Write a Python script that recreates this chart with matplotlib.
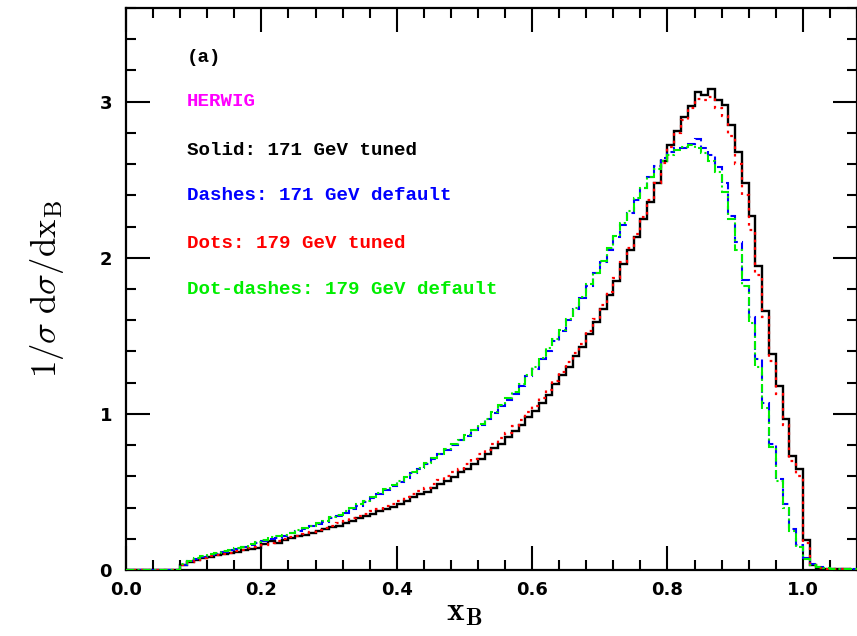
import numpy as np
import matplotlib
matplotlib.use("Agg")
import matplotlib.pyplot as plt
from matplotlib.ticker import MultipleLocator

# bin edges: 0.00 .. 1.08 in steps of 0.01
edges = np.round(np.arange(0, 1.081, 0.01), 2)

zeros8 = [0.0] * 8

solid_171_tuned = zeros8 + [
    0.035, 0.05, 0.065, 0.075, 0.085, 0.095, 0.10, 0.107, 0.115, 0.125,
    0.135, 0.14, 0.165, 0.185, 0.172, 0.195, 0.205, 0.215, 0.225, 0.235,
    0.25, 0.26, 0.275, 0.285, 0.30, 0.315, 0.33, 0.345, 0.36, 0.375,
    0.39, 0.405, 0.425, 0.445, 0.465, 0.485, 0.50, 0.525, 0.55, 0.57,
    0.595, 0.625, 0.65, 0.68, 0.71, 0.74, 0.78, 0.81, 0.85, 0.89,
    0.93, 0.98, 1.02, 1.07, 1.12, 1.19, 1.25, 1.30, 1.37, 1.43,
    1.51, 1.59, 1.67, 1.76, 1.85, 1.96, 2.05, 2.13, 2.25, 2.36,
    2.48, 2.62, 2.72, 2.81, 2.90, 2.97, 3.06, 3.04, 3.08, 3.01,
    2.98, 2.85, 2.68, 2.48, 2.27, 1.95, 1.66, 1.385, 1.18, 0.966,
    0.73, 0.645, 0.19, 0.03, 0.012, 0.008, 0.006, 0.005, 0.004, 0.003]

dashes_171_default = zeros8 + [
    0.035, 0.055, 0.07, 0.085, 0.095, 0.105, 0.115, 0.125, 0.135, 0.145,
    0.16, 0.175, 0.185, 0.20, 0.205, 0.22, 0.235, 0.25, 0.265, 0.28,
    0.295, 0.31, 0.33, 0.345, 0.365, 0.39, 0.41, 0.435, 0.46, 0.485,
    0.515, 0.54, 0.565, 0.59, 0.62, 0.65, 0.68, 0.71, 0.74, 0.77,
    0.80, 0.83, 0.86, 0.895, 0.93, 0.965, 1.005, 1.05, 1.09, 1.13,
    1.18, 1.24, 1.29, 1.35, 1.40, 1.47, 1.53, 1.60, 1.67, 1.74,
    1.82, 1.90, 1.97, 2.05, 2.13, 2.21, 2.29, 2.37, 2.45, 2.52,
    2.59, 2.64, 2.68, 2.70, 2.70, 2.73, 2.76, 2.70, 2.66, 2.58,
    2.48, 2.27, 2.10, 1.86, 1.62, 1.35, 1.07, 0.81, 0.58, 0.42,
    0.26, 0.16, 0.08, 0.04, 0.02, 0.012, 0.008, 0.006, 0.005, 0.004]

dots_179_tuned = zeros8 + [
    0.035, 0.05, 0.065, 0.075, 0.087, 0.097, 0.103, 0.11, 0.12, 0.13,
    0.14, 0.15, 0.16, 0.175, 0.185, 0.20, 0.21, 0.22, 0.232, 0.245,
    0.258, 0.27, 0.285, 0.30, 0.315, 0.33, 0.345, 0.36, 0.375, 0.39,
    0.41, 0.425, 0.445, 0.465, 0.485, 0.505, 0.525, 0.55, 0.575, 0.60,
    0.625, 0.65, 0.68, 0.71, 0.74, 0.77, 0.81, 0.845, 0.88, 0.92,
    0.96, 1.01, 1.05, 1.10, 1.15, 1.21, 1.27, 1.33, 1.39, 1.45,
    1.53, 1.61, 1.70, 1.78, 1.87, 1.97, 2.06, 2.15, 2.26, 2.37,
    2.48, 2.61, 2.71, 2.80, 2.88, 2.96, 3.02, 3.01, 3.03, 2.96,
    2.91, 2.78, 2.60, 2.40, 2.18, 1.89, 1.62, 1.34, 1.13, 0.93,
    0.70, 0.60, 0.17, 0.03, 0.012, 0.008, 0.006, 0.005, 0.004, 0.003]

dotdash_179_default = zeros8 + [
    0.04, 0.06, 0.075, 0.09, 0.10, 0.11, 0.12, 0.13, 0.14, 0.15,
    0.165, 0.18, 0.195, 0.21, 0.215, 0.225, 0.24, 0.255, 0.27, 0.285,
    0.30, 0.315, 0.34, 0.355, 0.375, 0.40, 0.42, 0.445, 0.47, 0.495,
    0.52, 0.545, 0.57, 0.595, 0.625, 0.655, 0.685, 0.715, 0.745, 0.775,
    0.805, 0.835, 0.865, 0.90, 0.935, 0.97, 1.01, 1.055, 1.10, 1.14,
    1.19, 1.25, 1.30, 1.36, 1.42, 1.48, 1.54, 1.61, 1.68, 1.75,
    1.83, 1.90, 1.98, 2.06, 2.14, 2.22, 2.30, 2.38, 2.45, 2.52,
    2.57, 2.62, 2.66, 2.69, 2.71, 2.72, 2.70, 2.67, 2.62, 2.55,
    2.42, 2.25, 2.05, 1.82, 1.58, 1.30, 1.04, 0.79, 0.57, 0.40,
    0.25, 0.15, 0.07, 0.035, 0.018, 0.012, 0.008, 0.006, 0.005, 0.004]

labels = ["(a)", "HERWIG", "Solid: 171 GeV tuned", "Dashes: 171 GeV default",
          "Dots: 179 GeV tuned", "Dot-dashes: 179 GeV default"]
label_colors = ["black", "#ff00ff", "black", "#0000ff", "#ff0000", "#00ee00"]

plt.rcParams['mathtext.fontset'] = 'cm'

fig = plt.figure(figsize=(8.57, 6.36), dpi=100)
ax = fig.add_axes([126/857, 66/636, 731/857, 562/636])

ax.stairs(solid_171_tuned, edges, color="black", lw=1.7, linestyle="-", zorder=3)
ax.stairs(dashes_171_default, edges, color="#0000ff", lw=1.5,
          linestyle=(0, (4, 2)), zorder=3)
ax.stairs(dots_179_tuned, edges, color="#ff0000", lw=1.6,
          linestyle=(0, (1.2, 2.2)), zorder=4)
ax.stairs(dotdash_179_default, edges, color="#00ee00", lw=1.5,
          linestyle=(0, (4, 1.5, 1, 1.5)), zorder=4)

ax.set_xlim(0, 1.08)
ax.set_ylim(0, 3.6)

ax.xaxis.set_major_locator(MultipleLocator(0.2))
ax.xaxis.set_minor_locator(MultipleLocator(0.04))
ax.yaxis.set_major_locator(MultipleLocator(1))
ax.yaxis.set_minor_locator(MultipleLocator(0.2))
ax.set_xticks([0.0, 0.2, 0.4, 0.6, 0.8, 1.0])
ax.set_xticklabels(["0.0", "0.2", "0.4", "0.6", "0.8", "1.0"])
ax.set_yticks([0, 1, 2, 3])
ax.set_yticklabels(["0", "1", "2", "3"])

ax.tick_params(which="both", direction="in", top=True, right=True, width=1.5)
ax.tick_params(which="major", length=17)
ax.tick_params(which="minor", length=7)
ax.tick_params(axis="x", which="major", pad=8)
ax.tick_params(axis="y", which="major", pad=10)
for lab in ax.get_xticklabels() + ax.get_yticklabels():
    lab.set_fontweight("bold")
    lab.set_fontsize(13)
    lab.set_family("DejaVu Sans")

for sp in ax.spines.values():
    sp.set_linewidth(1.6)

ax.set_xlabel(r"$\mathbf{x_B}$", fontsize=24)
ax.xaxis.set_label_coords(0.462, -0.045)
ax.set_ylabel(r"$1/\sigma\ \mathrm{d}\sigma/\mathrm{dx_B}$", fontsize=25, labelpad=24)

ys_px = [57, 102, 150, 196, 243, 290]
for txt, col, ypx in zip(labels, label_colors, ys_px):
    fig.text(187/857, 1 - ypx/636, txt, color=col, fontsize=13.8,
             family="Liberation Mono", fontweight="bold", va="center", ha="left")

fig.savefig("out.png", dpi=100)
